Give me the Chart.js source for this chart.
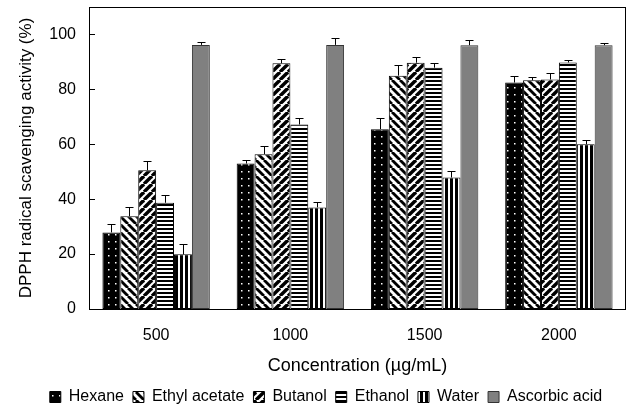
<!DOCTYPE html>
<html>
<head>
<meta charset="utf-8">
<script src="https://cdn.jsdelivr.net/npm/chart.js@4.4.0/dist/chart.umd.min.js"></script>
<style>
html,body{margin:0;padding:0;background:#fff;}
#wrap{width:629px;height:409px;position:relative;}
</style>
</head>
<body>
<div id="wrap"><canvas id="c" width="629" height="409"></canvas></div>
<script>
// ---- data ----
const categories = ['500', '1000', '1500', '2000'];
const seriesNames = ['Hexane', 'Ethyl acetate', 'Butanol', 'Ethanol', 'Water', 'Ascorbic acid'];
const hexane       = [27.9, 53.0, 65.5, 82.5];
const hexaneErr    = [2.9, 1.3, 3.9, 2.4];
const ethylAcetate = [33.8, 56.4, 85.0, 83.3];
const ethylAcetateErr = [3.4, 3.0, 4.0, 1.2];
const butanol      = [50.5, 89.5, 89.7, 83.6];
const butanolErr   = [3.4, 1.6, 2.0, 2.4];
const ethanol      = [38.7, 67.2, 87.9, 89.8];
const ethanolErr   = [2.9, 2.5, 1.8, 0.9];
const water        = [19.9, 37.0, 47.9, 60.0];
const waterErr     = [3.6, 1.9, 2.4, 1.7];
const ascorbicAcid = [96.2, 96.2, 96.1, 96.1];
const ascorbicAcidErr = [1.1, 2.4, 1.7, 0.9];
const yTicks = [0, 20, 40, 60, 80, 100];
const yMax = 110;
const xTitle = 'Concentration (µg/mL)';
const yTitle = 'DPPH radical scavenging activity (%)';

const seriesValues = [hexane, ethylAcetate, butanol, ethanol, water, ascorbicAcid];
const seriesErrors = [hexaneErr, ethylAcetateErr, butanolErr, ethanolErr, waterErr, ascorbicAcidErr];

// ---- patterns ----
const canvas = document.getElementById('c');
const ctx = canvas.getContext('2d');
function makePattern(w, h, draw) {
  const c = document.createElement('canvas');
  c.width = w; c.height = h;
  const g = c.getContext('2d');
  draw(g, w, h);
  return ctx.createPattern(c, 'repeat');
}
const patDots = makePattern(7, 7, (g, w, h) => {
  g.fillStyle = '#000'; g.fillRect(0, 0, w, h);
  g.fillStyle = '#fff';
  g.fillRect(3, 3, 1.5, 1.5);
});
const patBack = makePattern(8, 8, (g, w, h) => {
  g.fillStyle = '#fff'; g.fillRect(0, 0, w, h);
  g.strokeStyle = '#000'; g.lineWidth = 2.8;
  for (const x0 of [-w, 0, w]) { g.beginPath(); g.moveTo(x0, 0); g.lineTo(x0 + w, h); g.stroke(); }
});
const patFwd = makePattern(8, 8, (g, w, h) => {
  g.fillStyle = '#fff'; g.fillRect(0, 0, w, h);
  g.strokeStyle = '#000'; g.lineWidth = 3.4;
  for (const x0 of [-w, 0, w]) { g.beginPath(); g.moveTo(x0, h); g.lineTo(x0 + w, 0); g.stroke(); }
});
const patHoriz = makePattern(4, 4, (g, w, h) => {
  g.fillStyle = '#fff'; g.fillRect(0, 0, w, h);
  g.fillStyle = '#000'; g.fillRect(0, 0, w, 2);
});
const patVert = makePattern(5, 5, (g, w, h) => {
  g.fillStyle = '#fff'; g.fillRect(0, 0, w, h);
  g.fillStyle = '#000'; g.fillRect(0, 0, 3, h);
});
const fills = [patDots, patBack, patFwd, patHoriz, patVert, '#808080'];
const borders = ['#000', '#000', '#000', '#000', '#000', '#333'];

const datasets = seriesNames.map((name, i) => ({
  label: name,
  data: seriesValues[i],
  backgroundColor: fills[i],
  borderColor: borders[i],
  borderWidth: 1,
  borderSkipped: false,
  categoryPercentage: 0.8,
  barPercentage: 1.0
}));

// ---- plugins ----
const errorBars = {
  id: 'errorBars',
  afterDatasetsDraw(chart) {
    const c = chart.ctx, ys = chart.scales.y;
    c.save();
    c.strokeStyle = '#000'; c.lineWidth = 1;
    chart.data.datasets.forEach((ds, i) => {
      const meta = chart.getDatasetMeta(i);
      meta.data.forEach((bar, j) => {
        const top = Math.round(ys.getPixelForValue(ds.data[j] + seriesErrors[i][j])) + 0.5;
        const x = Math.round(bar.x) + 0.5;
        c.beginPath();
        c.moveTo(x, bar.y); c.lineTo(x, top);
        c.moveTo(x - 4, top); c.lineTo(x + 4, top);
        c.stroke();
      });
    });
    c.restore();
  }
};
const frame = {
  id: 'frame',
  afterDraw(chart) {
    const c = chart.ctx, a = chart.chartArea, ys = chart.scales.y;
    c.save();
    c.strokeStyle = '#000'; c.lineWidth = 1;
    c.strokeRect(Math.round(a.left) + 0.5, Math.round(a.top) + 0.5,
                 Math.round(a.right - a.left) - 1, Math.round(a.bottom - a.top));
    c.beginPath();
    yTicks.forEach(v => {
      const y = Math.round(ys.getPixelForValue(v)) + 0.5;
      c.moveTo(a.left, y); c.lineTo(a.left + 6, y);
    });
    c.stroke();
    c.restore();
  }
};

Chart.defaults.font.family = '"Liberation Sans", Arial, sans-serif';
Chart.defaults.color = '#000';

new Chart(ctx, {
  type: 'bar',
  data: { labels: categories, datasets },
  options: {
    responsive: false,
    animation: false,
    devicePixelRatio: 1,
    layout: { padding: { top: 7, right: 3, bottom: -6, left: 26 } },
    plugins: {
      legend: {
        position: 'bottom',
        labels: {
          boxWidth: 11, boxHeight: 11, padding: 9,
          font: { size: 16 },
          color: '#000'
        }
      },
      tooltip: { enabled: false }
    },
    scales: {
      x: {
        grid: { display: false, drawTicks: false },
        border: { display: false },
        ticks: { font: { size: 16 }, padding: 17, color: '#000', maxRotation: 0 },
        title: { display: true, text: xTitle, font: { size: 18 }, padding: { top: 0, bottom: 3 }, color: '#000' },
        afterFit(s) { s.height = 71; s.paddingLeft = 0; s.paddingRight = 0; }
      },
      y: {
        min: 0, max: yMax,
        grid: { display: false, drawTicks: false },
        border: { display: false },
        afterBuildTicks(s) { s.ticks = yTicks.map(v => ({ value: v })); },
        ticks: { font: { size: 16 }, padding: 13, color: '#000' },
        title: { display: true, text: yTitle, font: { size: 17 }, padding: { top: -10, bottom: 0 }, color: '#000' },
        afterFit(s) { s.width = 63; s.paddingTop = 0; s.paddingBottom = 0; }
      }
    }
  },
  plugins: [errorBars, frame]
});
</script>
</body>
</html>
